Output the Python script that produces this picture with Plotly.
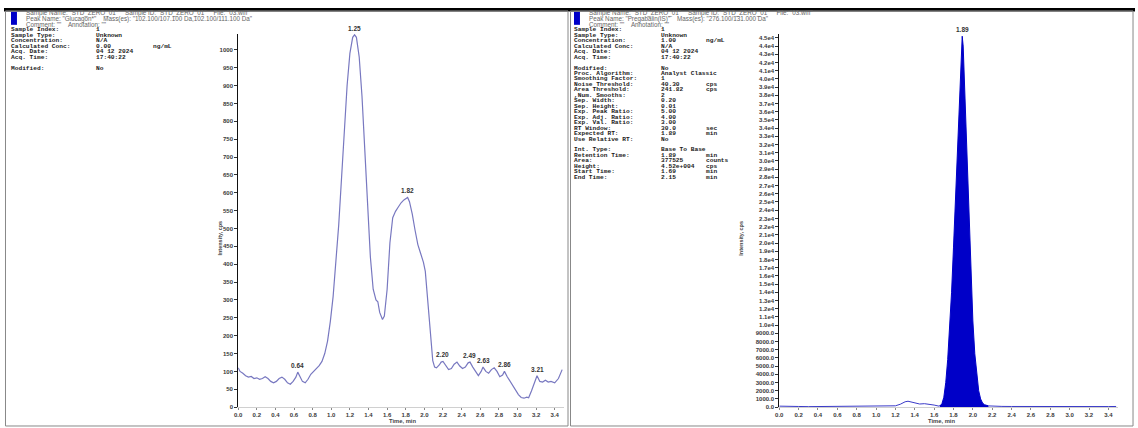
import plotly.graph_objects as go

W, H = 1138, 428

# ---------------- data: left chromatogram (analyte) ----------------
left_time = [0.00, 0.02, 0.05, 0.08, 0.11, 0.14, 0.17, 0.20, 0.23, 0.26, 0.29, 0.32, 0.35, 0.38,
             0.41, 0.44, 0.47, 0.50, 0.53, 0.56, 0.59, 0.62, 0.64, 0.66, 0.69, 0.72, 0.75, 0.78,
             0.81, 0.84, 0.87, 0.90, 0.93, 0.96, 0.99, 1.02, 1.05, 1.08, 1.11, 1.14, 1.17, 1.20,
             1.23, 1.25, 1.27, 1.30, 1.33, 1.36, 1.39, 1.42, 1.45, 1.48, 1.50, 1.52, 1.55, 1.57,
             1.60, 1.63, 1.66, 1.69, 1.72, 1.75, 1.78, 1.81, 1.82, 1.84, 1.87, 1.90, 1.93, 1.96,
             1.99, 2.01, 2.03, 2.05, 2.07, 2.09, 2.11, 2.13, 2.16, 2.18, 2.20, 2.23, 2.26, 2.29,
             2.32, 2.35, 2.38, 2.41, 2.44, 2.47, 2.49, 2.52, 2.55, 2.58, 2.61, 2.63, 2.66, 2.69,
             2.72, 2.75, 2.78, 2.81, 2.84, 2.86, 2.89, 2.92, 2.95, 2.98, 3.01, 3.04, 3.07, 3.10,
             3.12, 3.15, 3.18, 3.21, 3.24, 3.27, 3.30, 3.33, 3.36, 3.40, 3.44, 3.48]
left_cps = [110, 100, 95, 88, 84, 86, 80, 82, 78, 80, 85, 80, 72, 68,
            72, 80, 84, 78, 68, 64, 72, 84, 98, 86, 72, 68, 78, 92,
            100, 108, 116, 128, 150, 185, 240, 310, 400, 510, 640, 780, 900, 990,
            1035, 1042, 1035, 980, 870, 720, 560, 420, 330, 300, 295, 265, 245, 255,
            330, 460, 530, 548, 560, 572, 580, 586, 587, 575, 540, 495, 455, 430,
            405, 380, 320, 250, 180, 130, 112, 110, 118, 126, 128, 115, 105, 108,
            120, 126, 115, 108, 112, 124, 126, 112, 100, 88, 100, 112, 100, 95,
            105, 110, 100, 85, 90, 100, 85, 72, 62, 48, 35, 27, 25, 28,
            26, 45, 66, 88, 72, 70, 75, 70, 72, 68, 80, 105]
left_peak_rt = [0.64, 1.25, 1.82, 2.20, 2.49, 2.63, 2.86, 3.21]
left_peak_cps = [98, 1042, 587, 128, 126, 112, 100, 88]
left_peak_labels = ["0.64", "1.25", "1.82", "2.20", "2.49", "2.63", "2.86", "3.21"]

# ---------------- data: right chromatogram (internal standard) ----------------
right_base_time = [0.00, 0.05, 0.10, 0.15, 0.20, 0.30, 0.40, 0.50, 0.60, 0.70, 0.80, 0.90,
                   1.00, 1.10, 1.20, 1.25, 1.30, 1.33, 1.36, 1.40, 1.45, 1.50, 1.55, 1.60,
                   1.65, 1.68, 2.16, 2.20, 2.30, 2.40, 2.50, 2.60, 2.70, 2.80, 2.90, 3.00,
                   3.10, 3.20, 3.30, 3.40, 3.48]
right_base_cps = [120, 90, 60, 110, 80, 60, 70, 50, 60, 70, 60, 80,
                  110, 130, 160, 350, 650, 720, 640, 520, 380, 420, 380, 250,
                  120, 300, 150, 110, 90, 80, 70, 80, 60, 70, 60, 90,
                  70, 80, 60, 70, 80]
right_peak_time = [1.66, 1.68, 1.70, 1.72, 1.74, 1.76, 1.78, 1.80, 1.82, 1.84, 1.86, 1.88,
                   1.89, 1.90, 1.92, 1.94, 1.96, 1.98, 2.00, 2.02, 2.04, 2.06, 2.08, 2.10,
                   2.12, 2.14, 2.16]
right_peak_cps = [150, 400, 1200, 3000, 5800, 9500, 14000, 19500, 25500, 32000, 38500, 44000,
                  45200, 44000, 37500, 30000, 22500, 16000, 10500, 6500, 3800, 2000, 1000, 500,
                  300, 200, 150]
right_peak_label = "1.89"

# ---------------- axis tick labels ----------------
x_ticks = [0.0, 0.2, 0.4, 0.6, 0.8, 1.0, 1.2, 1.4, 1.6, 1.8, 2.0, 2.2, 2.4, 2.6, 2.8, 3.0, 3.2, 3.4]
left_y_ticks = list(range(0, 1001, 50))
right_y_ticks = list(range(0, 45001, 1000))
right_y_text = [("%.1f" % v) if v < 10000 else ("%.1fe4" % (v / 10000.0)) for v in right_y_ticks]

# ---------------- text blocks ----------------
left_header = ['Sample Name: "STD_ZERO_01"    Sample ID: "STD_ZERO_01"    File: "03.wiff"',
               'Peak Name: "Glucagon*"    Mass(es): "102.100/107.100 Da,102.100/111.100 Da"',
               'Comment: ""    Annotation: ""']
right_header = ['Sample Name: "STD_ZERO_01"    Sample ID: "STD_ZERO_01"    File: "03.wiff"',
                'Peak Name: "Pregabalin(IS)"    Mass(es): "276.100/131.000 Da"',
                'Comment: ""    Annotation: ""']
left_info = [("Sample Index:", "1", ""),
             ("Sample Type:", "Unknown", ""),
             ("Concentration:", "N/A", ""),
             ("Calculated Conc:", "0.00", "ng/mL"),
             ("Acq. Date:", "04 12 2024", ""),
             ("Acq. Time:", "17:40:22", ""),
             None,
             ("Modified:", "No", "")]
right_info = [("Sample Index:", "1", ""),
              ("Sample Type:", "Unknown", ""),
              ("Concentration:", "1.00", "ng/mL"),
              ("Calculated Conc:", "N/A", ""),
              ("Acq. Date:", "04 12 2024", ""),
              ("Acq. Time:", "17:40:22", ""),
              None,
              ("Modified:", "No", ""),
              ("Proc. Algorithm:", "Analyst Classic", ""),
              ("Smoothing Factor:", "1", ""),
              ("Noise Threshold:", "40.30", "cps"),
              ("Area Threshold:", "241.82", "cps"),
              (",Num. Smooths:", "2", ""),
              ("Sep. Width:", "0.20", ""),
              ("Sep. Height:", "0.01", ""),
              ("Exp. Peak Ratio:", "5.00", ""),
              ("Exp. Adj. Ratio:", "4.00", ""),
              ("Exp. Val. Ratio:", "3.00", ""),
              ("RT Window:", "30.0", "sec"),
              ("Expected RT:", "1.89", "min"),
              ("Use Relative RT:", "No", ""),
              None,
              ("Int. Type:", "Base To Base", ""),
              ("Retention Time:", "1.89", "min"),
              ("Area:", "377525", "counts"),
              ("Height:", "4.52e+004", "cps"),
              ("Start Time:", "1.69", "min"),
              ("End Time:", "2.15", "min")]


def px(x):
    return x / W


def py(y):
    return 1 - y / H


LINE_L = "#7878C0"
BLUE = "#0000C8"
TICKFONT = dict(family="Liberation Sans", size=6.0, color="#3a3a3a")

fig = go.Figure()
fig.add_trace(go.Scatter(x=left_time, y=left_cps, mode="lines", line=dict(color=LINE_L, width=1.2),
                         xaxis="x", yaxis="y", showlegend=False, hoverinfo="skip"))
fig.add_trace(go.Scatter(x=right_base_time, y=right_base_cps, mode="lines",
                         line=dict(color="#3A3AC8", width=1), xaxis="x2", yaxis="y2",
                         showlegend=False, hoverinfo="skip"))
fig.add_trace(go.Scatter(x=right_peak_time, y=right_peak_cps, mode="lines", fill="tozeroy",
                         fillcolor=BLUE, line=dict(color=BLUE, width=1), xaxis="x2", yaxis="y2",
                         showlegend=False, hoverinfo="skip"))

ydom = [py(410), py(34)]
xaxis_common = dict(range=[0, 3.5], tickvals=x_ticks, ticktext=["<b>%.1f</b>" % v for v in x_ticks],
                    showgrid=False, zeroline=False, showline=True, linecolor="#d0d0d0", linewidth=1,
                    ticks="outside", ticklen=2, tickcolor="#888888", tickfont=TICKFONT)
yaxis_common = dict(showgrid=False, zeroline=False, showline=True, linecolor="#111111", linewidth=1,
                    ticks="outside", ticklen=3, tickcolor="#333333", tickfont=TICKFONT, domain=ydom)

fig.update_layout(
    width=W, height=H, autosize=False,
    margin=dict(l=0, r=0, t=0, b=0),
    paper_bgcolor="white", plot_bgcolor="white",
    xaxis=dict(domain=[px(235), px(562)], anchor="y", **xaxis_common),
    yaxis=dict(range=[0, 1045], tickvals=left_y_ticks, ticktext=["<b>%d</b>" % v for v in left_y_ticks],
               anchor="x", **yaxis_common),
    xaxis2=dict(domain=[px(778), px(1118)], anchor="y2", **xaxis_common),
    yaxis2=dict(range=[0, 45500], tickvals=right_y_ticks, ticktext=["<b>%s</b>" % s for s in right_y_text],
                anchor="x2", **yaxis_common),
)

ann = []
# peak labels
for t, v, lab in zip(left_peak_rt, left_peak_cps, left_peak_labels):
    ann.append(dict(x=t, y=v, xref="x", yref="y", text="<b>%s</b>" % lab, showarrow=False,
                    yanchor="bottom", yshift=1, font=dict(family="Liberation Sans", size=6.5, color="#333")))
apex_i = right_peak_cps.index(max(right_peak_cps))
ann.append(dict(x=right_peak_time[apex_i], y=right_peak_cps[apex_i], xref="x2", yref="y2",
                text="<b>%s</b>" % right_peak_label, showarrow=False, yanchor="bottom", yshift=1,
                font=dict(family="Liberation Sans", size=6.5, color="#333")))

# axis titles
for xc in (400, 955):
    ann.append(dict(x=px(xc), y=py(428), xref="paper", yref="paper", text="<b>Time, min</b>",
                    showarrow=False, yanchor="bottom", borderpad=0,
                    font=dict(family="Liberation Sans", size=5.8, color="#444")))
for xc in (212, 740):
    ann.append(dict(x=px(xc), y=py(240), xref="paper", yref="paper", text="<b>Intensity, cps</b>",
                    showarrow=False, textangle=-90, font=dict(family="Liberation Sans", size=5.5, color="#444")))

# headers
for x0, lines in ((20, left_header), (585, right_header)):
    for i, s in enumerate(lines):
        ann.append(dict(x=px(x0), y=py(13.5 + 5.8 * i), xref="paper", yref="paper", text=s,
                        showarrow=False, xanchor="left", yanchor="middle",
                        font=dict(family="Liberation Sans", size=6.3, color="#666666")))

# info blocks
MONO = dict(family="Liberation Mono", size=6.2, color="#1a1a1a")
for x0, xv, xu, rows in ((5, 90, 148, left_info), (570, 657, 702, right_info)):
    for i, row in enumerate(rows):
        if row is None:
            continue
        yy = py(30 + 5.5 * i)
        for xx, s in zip((x0, xv, xu), row):
            if s:
                ann.append(dict(x=px(xx), y=yy, xref="paper", yref="paper", text="<b>%s</b>" % s,
                                showarrow=False, xanchor="left", yanchor="middle", font=MONO))

shapes = [
    dict(type="rect", xref="paper", yref="paper", x0=px(0), x1=px(1135), y0=py(11.5), y1=py(8),
         fillcolor="black", line=dict(width=0)),
    dict(type="rect", xref="paper", yref="paper", x0=px(1.5), x1=px(566), y0=py(429), y1=py(11),
         line=dict(color="#888888", width=1)),
    dict(type="rect", xref="paper", yref="paper", x0=px(568.5), x1=px(1133), y0=py(429), y1=py(11),
         line=dict(color="#888888", width=1)),
    dict(type="rect", xref="paper", yref="paper", x0=px(7), x1=px(13), y0=py(25), y1=py(12),
         fillcolor=BLUE, line=dict(width=0)),
    dict(type="rect", xref="paper", yref="paper", x0=px(572), x1=px(578), y0=py(25), y1=py(12),
         fillcolor=BLUE, line=dict(width=0)),
]
fig.update_layout(annotations=ann, shapes=shapes)
fig.write_html("out.html", config={"displayModeBar": False},
               post_script="document.body.style.margin='0px';document.body.style.overflow='hidden';")
